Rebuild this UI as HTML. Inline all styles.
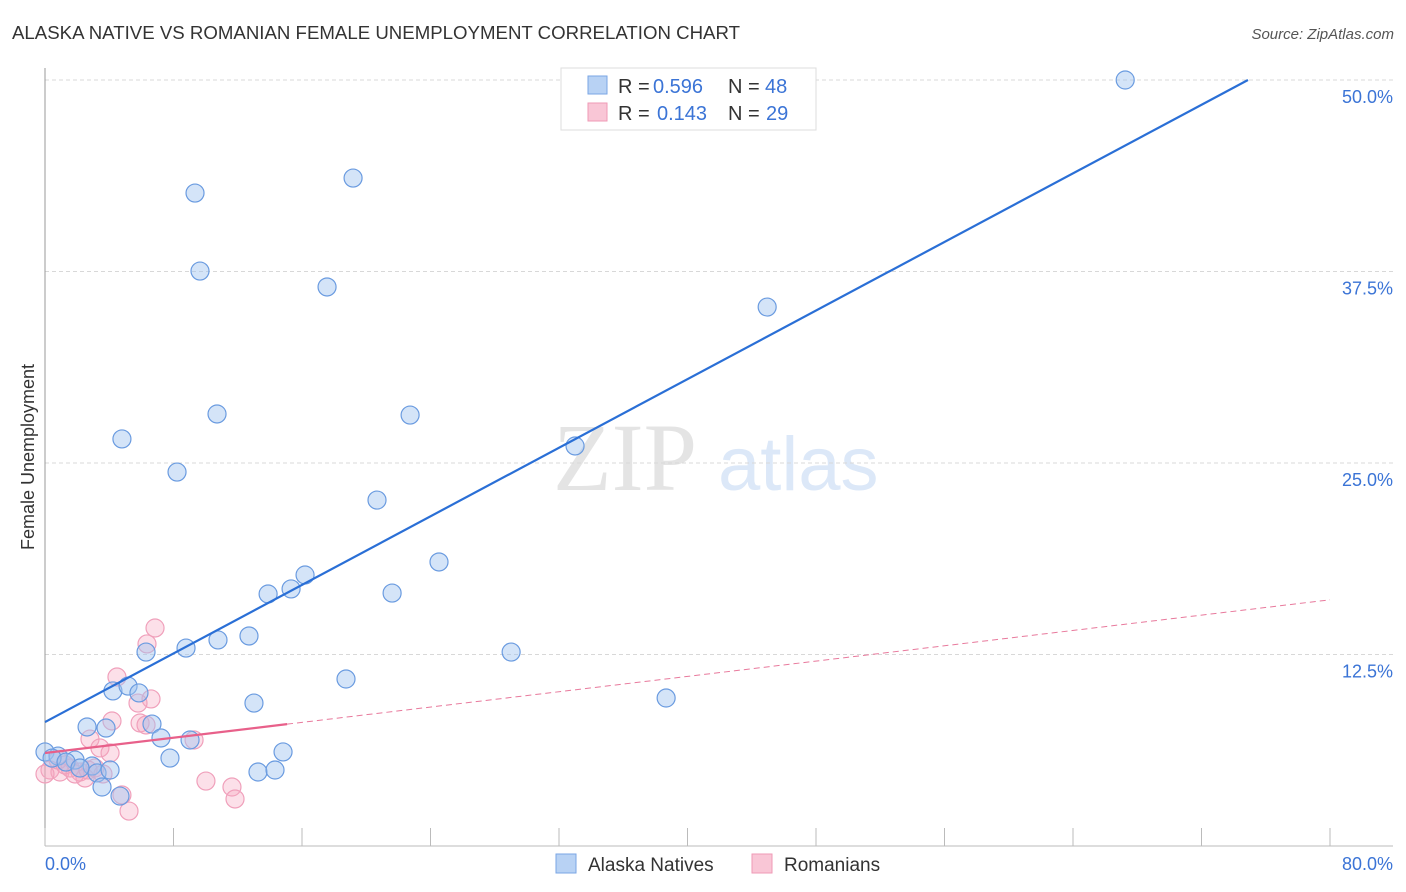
<!DOCTYPE html>
<html><head><meta charset="utf-8"><style>
body{margin:0;background:#fff;font-family:"Liberation Sans",sans-serif;}
svg{display:block}
</style></head><body>
<svg id="c" width="1406" height="892" xmlns="http://www.w3.org/2000/svg">
<text x="12" y="39" font-size="18" fill="#333" textLength="728" lengthAdjust="spacingAndGlyphs">ALASKA NATIVE VS ROMANIAN FEMALE UNEMPLOYMENT CORRELATION CHART</text>
<text x="1394" y="39" font-size="15" fill="#555" font-style="italic" text-anchor="end">Source: ZipAtlas.com</text>
<g>
<text x="553" y="490" font-size="96" font-family="Liberation Serif,serif" fill="#e4e4e4">ZIP</text>
<text x="718" y="490" font-size="76" fill="#dce8f8">atlas</text>
</g>
<g id="grid"></g>
<g id="axes"></g>
<g id="marks"></g>
<text transform="translate(34,457) rotate(-90)" font-size="18" fill="#333" text-anchor="middle">Female Unemployment</text>
<g>
<rect x="561" y="68" width="255" height="62" fill="#fff" stroke="#ddd"/>
<rect x="588" y="76" width="19" height="18" fill="#b8d2f4" stroke="#7aa6e4"/>
<rect x="588" y="103" width="19" height="18" fill="#f9c6d6" stroke="#ef9ab6"/>
<text x="618" y="93" font-size="20" fill="#333">R =</text>
<text x="653" y="93" font-size="20" fill="#3b74d6">0.596</text>
<text x="728" y="93" font-size="20" fill="#333">N =</text>
<text x="765" y="93" font-size="20" fill="#3b74d6">48</text>
<text x="618" y="120" font-size="20" fill="#333">R =</text>
<text x="657" y="120" font-size="20" fill="#3b74d6">0.143</text>
<text x="728" y="120" font-size="20" fill="#333">N =</text>
<text x="766" y="120" font-size="20" fill="#3b74d6">29</text>
</g>
<g>
<rect x="556" y="854" width="20" height="19" fill="#b8d2f4" stroke="#7aa6e4"/>
<text x="588" y="871" font-size="19" fill="#333">Alaska Natives</text>
<rect x="752" y="854" width="20" height="19" fill="#f9c6d6" stroke="#ef9ab6"/>
<text x="784" y="871" font-size="19" fill="#333">Romanians</text>
</g>
</svg>
<script>
const blueX=[67.25,9.34,19.18,9.65,17.56,44.96,10.71,22.73,4.79,33.0,8.22,20.67,24.53,16.19,15.32,13.89,21.61,12.70,10.77,8.78,6.29,29.02,18.74,4.23,5.17,5.85,38.67,13.01,2.62,3.80,6.66,7.22,9.03,14.82,7.78,0,0.81,1.87,2.93,3.24,3.55,4.67,13.26,14.32,0.44,1.31,2.18,4.05];
const blueY=[50.0,42.62,43.60,37.53,36.49,35.18,28.20,28.13,26.57,26.11,24.41,22.58,18.54,17.69,16.78,16.45,16.51,13.71,13.45,12.92,12.66,12.66,10.90,10.12,10.44,9.99,9.66,9.33,7.77,7.70,7.96,7.05,6.92,6.14,5.74,6.14,5.87,5.61,5.22,4.77,3.85,3.26,4.83,4.96,5.74,5.48,5.09,4.96];
const pinkX=[6.85,6.35,4.48,6.60,5.79,4.17,5.92,6.29,2.80,9.28,3.42,4.05,0.31,0.93,1.56,2.18,3.11,2.49,3.61,0.81,10.02,11.64,11.83,4.79,5.23,1.25,1.87,2.68,0];
const pinkY=[14.23,13.19,11.03,9.60,9.33,8.16,8.03,7.90,6.98,6.92,6.40,6.07,4.96,4.83,5.09,4.83,5.09,4.44,4.70,5.61,4.24,3.85,3.07,3.33,2.28,5.29,4.70,4.96,4.70];
const blueTrend=[8.09,0.5596];
const pinkTrend=[6.07,0.125,15.07];
const yTicks=[12.5,25,37.5,50];
const yTickLabels=["12.5%","25.0%","37.5%","50.0%"];
const xTicks=[0,8,16,24,32,40,48,56,64,72,80];

const NS="http://www.w3.org/2000/svg";
const X=v=>45+v*16.0625;
const Y=v=>846-v*15.32;
function mk(p,t,a){const e=document.createElementNS(NS,t);for(const k in a)e.setAttribute(k,a[k]);p.appendChild(e);return e;}
const grid=document.getElementById('grid'),axes=document.getElementById('axes'),marks=document.getElementById('marks');
yTicks.forEach((t,i)=>{
 const l=mk(grid,'line',{x1:45,x2:1393,y1:Y(t),y2:Y(t),stroke:'#d8d8d8','stroke-dasharray':'4,3'});
 
 
 const tx=mk(axes,'text',{x:1393,y:Y(t)+23,'font-size':18,fill:'#3b74d6','text-anchor':'end'});
 tx.textContent=yTickLabels[i];
 
 
});
mk(axes,'line',{x1:45,x2:45,y1:68,y2:846,stroke:'#999'});
mk(axes,'line',{x1:45,x2:1393,y1:846,y2:846,stroke:'#bbb'});
xTicks.forEach(t=>{
 const l=mk(axes,'line',{x1:X(t),x2:X(t),y1:828,y2:846,stroke:'#bbb'});
 
 
});
const xl=mk(axes,'text',{x:45,y:870,'font-size':18,fill:'#3b74d6'});xl.textContent='0.0%';


const xr=mk(axes,'text',{x:1393,y:870,'font-size':18,fill:'#3b74d6','text-anchor':'end'});xr.textContent='80.0%';


pinkX.forEach((v,i)=>{
 const c=mk(marks,'circle',{cx:X(v),cy:Y(pinkY[i]),r:9,fill:'rgba(245,165,192,0.35)',stroke:'#f0a0bb','stroke-width':1.2});
 
 
});
blueX.forEach((v,i)=>{
 const c=mk(marks,'circle',{cx:X(v),cy:Y(blueY[i]),r:9,fill:'rgba(160,196,240,0.45)',stroke:'#6a9be0','stroke-width':1.2});
 
 
});
const xe=(50-blueTrend[0])/blueTrend[1];
const bl=mk(marks,'line',{x1:X(0),y1:Y(blueTrend[0]),x2:X(xe),y2:Y(50),stroke:'#2a6fd6','stroke-width':2.2});


const pd=mk(marks,'line',{x1:X(pinkTrend[2]),y1:Y(pinkTrend[0]+pinkTrend[1]*pinkTrend[2]),x2:X(80),y2:Y(pinkTrend[0]+pinkTrend[1]*80),stroke:'#e8799c','stroke-width':1,'stroke-dasharray':'6,4'});


const pl=mk(marks,'line',{x1:X(0),y1:Y(pinkTrend[0]),x2:X(pinkTrend[2]),y2:Y(pinkTrend[0]+pinkTrend[1]*pinkTrend[2]),stroke:'#e8608a','stroke-width':2.2});


</script>
</body></html>
